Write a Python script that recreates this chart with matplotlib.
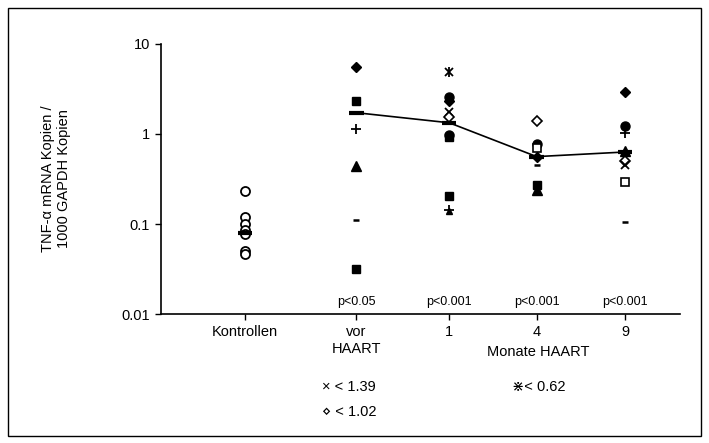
import numpy as np
import matplotlib
matplotlib.use("Agg")
import matplotlib.pyplot as plt
from matplotlib.patches import Rectangle

plt.rcParams['font.family'] = ['Liberation Sans', 'DejaVu Sans']

# group labels and x positions
groups = ["Kontrollen", "vor\nHAART", "1", "4", "9"]
xpos = [0.0, 1.24, 2.27, 3.24, 4.22]
p_labels = ["", "p<0.05", "p<0.001", "p<0.001", "p<0.001"]

# individual values (marker code per point)
kontr_vals = [0.23, 0.12, 0.10, 0.085, 0.077, 0.05, 0.046]
kontr_mk = ["o", "o", "o", "o", "o", "o", "o"]

vor_vals = [5.5, 2.35, 1.14, 0.44, 0.11, 0.032]
vor_mk = ["D", "s", "+", "^", "_", "s"]

m1_vals = [4.9, 2.6, 2.3, 1.75, 1.55, 0.97, 0.93, 0.205, 0.143, 0.138]
m1_mk = ["ast", "fo", "D", "x", "oD", "fo", "s", "s", "+", "st"]

m4_vals = [1.39, 0.78, 0.70, 0.56, 0.45, 0.27, 0.24]
m4_mk = ["oD", "fo", "os", "D", "_", "s", "^"]

m9_vals = [2.9, 1.22, 1.02, 0.65, 0.50, 0.45, 0.29, 0.105]
m9_mk = ["D", "fo", "+", "^", "oD", "x", "os", "_"]

# group means
means = [0.08, 1.72, 1.33, 0.56, 0.63]

all_vals = [kontr_vals, vor_vals, m1_vals, m4_vals, m9_vals]
all_mk = [kontr_mk, vor_mk, m1_mk, m4_mk, m9_mk]

styles = {
    "o":  dict(marker="o", mfc="white", mec="black", ms=6.5, mew=1.3),
    "fo": dict(marker="o", mfc="black", mec="black", ms=6.5),
    "s":  dict(marker="s", mfc="black", mec="black", ms=5.5),
    "os": dict(marker="s", mfc="white", mec="black", ms=5.5, mew=1.2),
    "D":  dict(marker="D", mfc="black", mec="black", ms=5),
    "oD": dict(marker="D", mfc="white", mec="black", ms=5, mew=1.2),
    "^":  dict(marker="^", mfc="black", mec="black", ms=6.5),
    "st": dict(marker="^", mfc="black", mec="black", ms=4),
    "+":  dict(marker="+", mec="black", ms=7, mew=1.3),
    "x":  dict(marker="x", mec="black", ms=6, mew=1.3),
    "_":  dict(marker="_", mec="black", ms=5, mew=1.8),
}

fig = plt.figure(figsize=(7.09, 4.43), dpi=100)
ax = fig.add_axes([0.227, 0.291, 0.732, 0.610])

for x, vals, mks in zip(xpos, all_vals, all_mk):
    for v, m in zip(vals, mks):
        if m == "ast":
            ax.plot(x, v, marker="x", color="black", ms=6, mew=1.3, ls="none")
            ax.plot(x, v, marker="|", color="black", ms=7, mew=1.3, ls="none")
        else:
            ax.plot(x, v, ls="none", color="black", **styles[m])

# mean bars
for x, m in zip(xpos, means):
    ax.plot([x - 0.08, x + 0.08], [m, m], color="black", lw=3, solid_capstyle="butt")
# mean line for HAART groups
ax.plot(xpos[1:], means[1:], color="black", lw=1.2)

ax.set_yscale("log")
ax.set_ylim(0.01, 10)
ax.set_xlim(-0.93, 4.83)
ax.set_yticks([0.01, 0.1, 1, 10])
ax.set_yticklabels(["0.01", "0.1", "1", "10"], fontsize=10.5)
ax.yaxis.set_minor_locator(matplotlib.ticker.NullLocator())
ax.set_xticks(xpos)
ax.set_xticklabels(groups, fontsize=10.5, linespacing=1.3)
ax.tick_params(axis="both", direction="out", length=4, width=1, pad=4)
ax.spines["top"].set_visible(False)
ax.spines["right"].set_visible(False)
ax.spines["left"].set_linewidth(1.2)
ax.spines["bottom"].set_linewidth(1.2)

for x, p in zip(xpos, p_labels):
    ax.text(x, 0.0118, p, ha="center", va="bottom", fontsize=9)

ax.set_ylabel("TNF-\u03b1 mRNA Kopien /\n1000 GAPDH Kopien", fontsize=10.5, labelpad=36, linespacing=1.2)

fig.text(538 / 709, 1 - 352 / 443, "Monate HAART", ha="center", va="center", fontsize=10.5)
fig.text(322 / 709, 1 - 387 / 443, "\u00d7 < 1.39", ha="left", va="center", fontsize=10.5)
fig.text(322 / 709, 1 - 412 / 443, "\u22c4 < 1.02", ha="left", va="center", fontsize=10.5)
fig.text(512 / 709, 1 - 387 / 443, "\u22c7< 0.62", ha="left", va="center", fontsize=10.5)

fig.patches.append(Rectangle((8 / 709, 7 / 443), 693 / 709, 428 / 443, transform=fig.transFigure,
                             fill=False, edgecolor="black", lw=1))

fig.savefig("out.png", dpi=100)
